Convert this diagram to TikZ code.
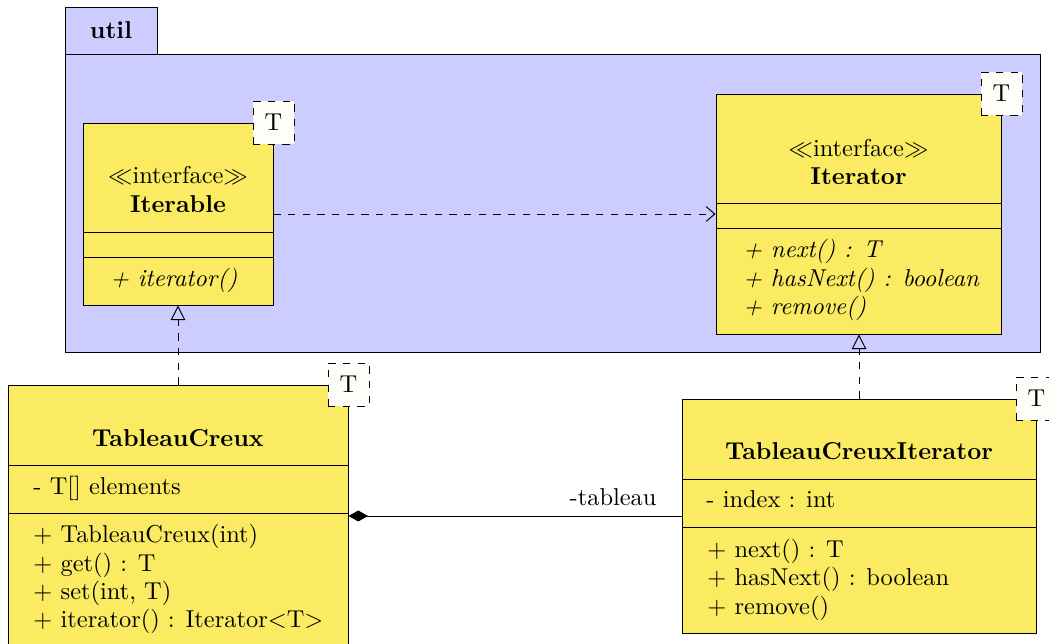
\documentclass[tikz,border=0pt]{standalone}
\usetikzlibrary{arrows.meta}
\definecolor{classyellow}{RGB}{250,235,98}
\definecolor{pkgblue}{RGB}{204,204,255}
\definecolor{tplwhite}{RGB}{255,253,248}
\def\pxu{0.4094pt}
\begin{document}
\begin{tikzpicture}[x=\pxu,y=-\pxu,
  classbox/.style={draw, fill=classyellow, inner sep=0pt, line width=0.4pt},
  pkgbox/.style={draw, fill=pkgblue, inner sep=0pt, line width=0.4pt},
  tplbox/.style={draw, dashed, fill=tplwhite, inner sep=0pt, minimum width=41*\pxu, minimum height=43*\pxu, font=\normalsize},
  txt/.style={inner sep=0pt, anchor=base},
  txtl/.style={inner sep=0pt, anchor=base west},
  realize/.style={dashed, -{Triangle[open,length=6pt,width=6pt]}},
  depend/.style={dashed, -{Straight Barb[length=3.5pt,width=6pt]}},
  compo/.style={{Diamond[length=8pt,width=4.5pt]}-}
]
\useasboundingbox (0,0) rectangle (1049,644);
\clip (0,0) rectangle (1049,644);

% package
\node[pkgbox, minimum width=92*\pxu, minimum height=47*\pxu] (pkgtab) at (111,30.5) {\textbf{util}};
\node[pkgbox, minimum width=975*\pxu, minimum height=298*\pxu] (pkg) at (552.5,203) {};

% Iterable
\node[classbox, minimum width=190*\pxu, minimum height=182*\pxu] (itb) at (178,214) {};
\draw (itb.west |- 0,232) -- (itb.east |- 0,232);
\draw (itb.west |- 0,257) -- (itb.east |- 0,257);
\node[txt] (itbst) at (178,184) {$\ll$interface$\gg$};
\node[txt] (itbname) at (178,213) {\textbf{Iterable}};
\node[txtl] (itbm1) at (110,287) {\textit{+ iterator()}};
\node[tplbox] (itbT) at (itb.north east) {T};

% Iterator
\node[classbox, minimum width=285*\pxu, minimum height=240*\pxu] (itr) at (858.5,214) {};
\draw (itr.west |- 0,203) -- (itr.east |- 0,203);
\draw (itr.west |- 0,228) -- (itr.east |- 0,228);
\node[txt] (itrst) at (858.5,157) {$\ll$interface$\gg$};
\node[txt] (itrname) at (858.5,185) {\textbf{Iterator}};
\node[txtl] (itrm1) at (743,258) {\textit{+ next() : T}};
\node[txtl] (itrm2) at (743,287) {\textit{+ hasNext() : boolean}};
\node[txtl] (itrm3) at (743,315) {\textit{+ remove()}};
\node[tplbox] (itrT) at (itr.north east) {T};

% TableauCreux
\node[classbox, minimum width=340*\pxu, minimum height=315*\pxu] (tc) at (178,542.5) {};
\draw (tc.west |- 0,465) -- (tc.east |- 0,465);
\draw (tc.west |- 0,513) -- (tc.east |- 0,513);
\node[txt] (tcname) at (178,447) {\textbf{TableauCreux}};
\node[txtl] (tca1) at (33,495) {- T[] elements};
\node[txtl] (tcm1) at (33,543) {+ TableauCreux(int)};
\node[txtl] (tcm2) at (33,572) {+ get() : T};
\node[txtl] (tcm3) at (33,600) {+ set(int, T)};
\node[txtl] (tcm4) at (33,628) {+ iterator() : Iterator$<$T$>$};
\node[tplbox] (tcT) at (tc.north east) {T};

% TableauCreuxIterator
\node[classbox, minimum width=354*\pxu, minimum height=234*\pxu] (tci) at (859,516) {};
\draw (tci.west |- 0,479) -- (tci.east |- 0,479);
\draw (tci.west |- 0,527) -- (tci.east |- 0,527);
\node[txt] (tciname) at (859,460) {\textbf{TableauCreuxIterator}};
\node[txtl] (tcia1) at (706,508) {- index : int};
\node[txtl] (tcim1) at (707,558) {+ next() : T};
\node[txtl] (tcim2) at (707,586) {+ hasNext() : boolean};
\node[txtl] (tcim3) at (707,615) {+ remove()};
\node[tplbox] (tciT) at (tci.north east) {T};

% connectors
\draw[depend] (itb.east) -- (itb.east -| itr.west);
\draw[realize] (tc.north -| itb.south) -- (itb.south);
\draw[realize] (tci.north) -- (tci.north |- itr.south);
\draw[compo] (tc.east |- 0,516) -- (tci.west |- 0,516);
\node[inner sep=0pt, anchor=base east] (lbl) at (657,506) {-tableau};
\end{tikzpicture}
\end{document}
